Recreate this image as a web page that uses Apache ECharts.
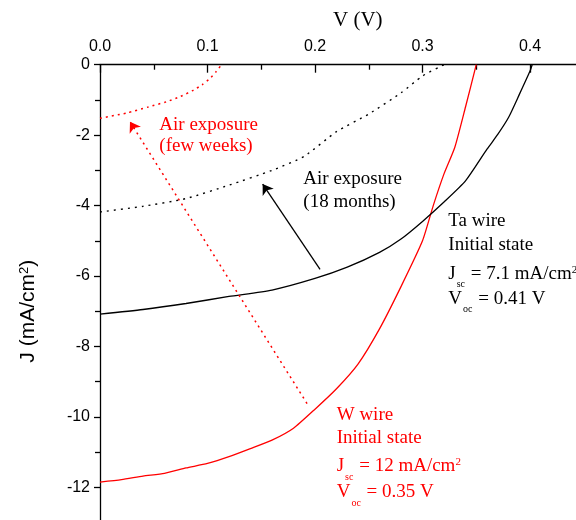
<!DOCTYPE html>
<html><head><meta charset="utf-8">
<script src="https://cdn.jsdelivr.net/npm/echarts@6/dist/echarts.min.js"></script>
<style>html,body{margin:0;padding:0;background:#fff}#c{width:576px;height:520px}</style>
</head><body><div id="c"></div>
<script>
// ---- data ----
const xTickValues = [0.0, 0.1, 0.2, 0.3, 0.4];
const xTickLabels = ['0.0', '0.1', '0.2', '0.3', '0.4'];
const yTickValues = [0, -2, -4, -6, -8, -10, -12];
const yTickLabels = ['0', '-2', '-4', '-6', '-8', '-10', '-12'];

// W wire, initial state (red solid)
const wInitV = [0, 0.02, 0.04, 0.06, 0.08, 0.10, 0.12, 0.14, 0.16, 0.18, 0.20, 0.22, 0.24, 0.26, 0.28, 0.30, 0.31, 0.32, 0.33, 0.34, 0.35];
const wInitJ = [-11.85, -11.78, -11.68, -11.6, -11.45, -11.32, -11.13, -10.9, -10.66, -10.32, -9.78, -9.2, -8.5, -7.5, -6.3, -5.0, -4.0, -3.1, -2.35, -1.2, 0];
// W wire, air exposure few weeks (red dotted)
const wAirV = [0, 0.025, 0.045, 0.062, 0.075, 0.087, 0.095, 0.102, 0.108, 0.113];
const wAirJ = [-1.52, -1.37, -1.2, -1.05, -0.9, -0.72, -0.57, -0.4, -0.2, 0];
// Ta wire, initial state (black solid)
const taInitV = [0, 0.04, 0.08, 0.12, 0.16, 0.20, 0.23, 0.26, 0.28, 0.30, 0.32, 0.34, 0.36, 0.37, 0.38, 0.39, 0.40, 0.402];
const taInitJ = [-7.08, -6.95, -6.78, -6.58, -6.4, -6.07, -5.75, -5.33, -4.95, -4.45, -3.9, -3.3, -2.4, -1.98, -1.5, -0.85, -0.18, 0];
// Ta wire, air exposure 18 months (black dotted)
const taAirV = [0, 0.04, 0.08, 0.12, 0.16, 0.19, 0.22, 0.25, 0.28, 0.30, 0.32];
const taAirJ = [-4.18, -4.02, -3.8, -3.42, -3.0, -2.6, -1.9, -1.4, -0.8, -0.32, 0];

// arrows (start -> end, in V / J units)
const wArrowV = [0.1926, 0.0279];
const wArrowJ = [-9.62, -1.62];
const taArrowV = [0.2047, 0.1513];
const taArrowJ = [-5.81, -3.39];

// ---- chart ----
const serif = '"Liberation Serif", "Times New Roman", serif';
const sans = '"Liberation Sans", Arial, sans-serif';
const pair = (vs, js) => vs.map((v, i) => [v, js[i]]);
const RED = '#ff0000', BLACK = '#000000';

const chart = echarts.init(document.getElementById('c'), null, {renderer: 'canvas'});

function lbl(x, baseline, text, color) {
  return {
    type: 'text', x: x, y: baseline - 17, silent: true, z: 100,
    style: {
      text: text, verticalAlign: 'top', align: 'left', fill: color,
      font: '19px ' + serif,
      rich: {
        m: {fontFamily: serif, fontSize: 19, lineHeight: 22, verticalAlign: 'top', fill: color},
        s: {fontFamily: serif, fontSize: 10, lineHeight: 10, padding: [15, 1, 0, 1], verticalAlign: 'top', fill: color},
        p: {fontFamily: serif, fontSize: 11, lineHeight: 11, verticalAlign: 'top', fill: color}
      }
    }
  };
}

const option = {
  animation: false,
  backgroundColor: '#ffffff',
  grid: {left: 100, top: 64.7, right: -61.5, bottom: -37.8, containLabel: false, outerBoundsMode: 'none'},
  xAxis: {
    type: 'value', position: 'top', min: 0, max: 0.5, interval: 0.1,
    name: 'V (V)', nameLocation: 'middle', nameGap: 34,
    nameTextStyle: {fontFamily: serif, fontSize: 21, color: BLACK, padding: [0, 22, 0, 0]},
    axisLine: {onZero: false, lineStyle: {color: BLACK, width: 1.3}},
    axisTick: {inside: true, length: 8, lineStyle: {color: BLACK, width: 1.3}},
    minorTick: {show: true, splitNumber: 2, length: 5, lineStyle: {color: BLACK, width: 1.3}},
    axisLabel: {
      margin: 10, fontFamily: sans, fontSize: 16, color: BLACK,
      formatter: v => { const i = xTickValues.findIndex(t => Math.abs(t - v) < 1e-9); return i >= 0 ? xTickLabels[i] : ''; }
    },
    splitLine: {show: false}, minorSplitLine: {show: false}
  },
  yAxis: {
    type: 'value', position: 'left', min: -14, max: 0, interval: 2,
    name: '{a|J (mA/cm}{s|2}{a|)}', nameLocation: 'middle', nameGap: 58, nameRotate: 90,
    nameTextStyle: {
      fontFamily: sans, fontSize: 21, color: BLACK,
      rich: {
        a: {fontFamily: sans, fontSize: 21, lineHeight: 24, verticalAlign: 'top', color: BLACK},
        s: {fontFamily: sans, fontSize: 13, lineHeight: 13, verticalAlign: 'top', color: BLACK}
      }
    },
    axisLine: {onZero: false, lineStyle: {color: BLACK, width: 1.3}},
    axisTick: {inside: false, length: 6, lineStyle: {color: BLACK, width: 1.3}},
    minorTick: {show: true, splitNumber: 2, length: 5, lineStyle: {color: BLACK, width: 1.3}},
    axisLabel: {
      margin: 10, fontFamily: sans, fontSize: 16, color: BLACK,
      formatter: v => { const i = yTickValues.findIndex(t => Math.abs(t - v) < 1e-9); return i >= 0 ? yTickLabels[i] : ''; }
    },
    splitLine: {show: false}, minorSplitLine: {show: false}
  },
  series: [
    {type: 'line', name: 'W initial', data: pair(wInitV, wInitJ), symbol: 'none', smooth: 0.2,
     lineStyle: {color: RED, width: 1.3}, z: 3},
    {type: 'line', name: 'W air', data: pair(wAirV, wAirJ), symbol: 'none', smooth: 0.2,
     lineStyle: {color: RED, width: 1.5, type: [2, 4]}, z: 3},
    {type: 'line', name: 'Ta initial', data: pair(taInitV, taInitJ), symbol: 'none', smooth: 0.2,
     lineStyle: {color: BLACK, width: 1.3}, z: 3},
    {type: 'line', name: 'Ta air', data: pair(taAirV, taAirJ), symbol: 'none', smooth: 0.2,
     lineStyle: {color: BLACK, width: 1.4, type: [2, 5]}, z: 3},
    {type: 'lines', coordinateSystem: 'cartesian2d', symbol: ['none', 'arrow'], symbolSize: [0, 10],
     lineStyle: {color: RED, width: 1.5, type: [2, 4], opacity: 1},
     data: [{coords: pair(wArrowV, wArrowJ)}], z: 4},
    {type: 'lines', coordinateSystem: 'cartesian2d', symbol: ['none', 'arrow'], symbolSize: [0, 10],
     lineStyle: {color: BLACK, width: 1.3, opacity: 1},
     data: [{coords: pair(taArrowV, taArrowJ)}], z: 4}
  ],
  graphic: [
    lbl(159.3, 133, '{m|Air exposure}', RED),
    lbl(159.3, 154, '{m|(few weeks)}', RED),
    lbl(303.3, 187, '{m|Air exposure}', BLACK),
    lbl(303.3, 210, '{m|(18 months)}', BLACK),
    lbl(448.3, 228.3, '{m|Ta wire}', BLACK),
    lbl(448.3, 252.7, '{m|Initial state}', BLACK),
    lbl(448.3, 281.7, '{m|J}{s|sc}{m| = 7.1 mA/cm}{p|2}', BLACK),
    lbl(448.3, 306.7, '{m|V}{s|oc}{m| = 0.41 V}', BLACK),
    lbl(336.7, 422.7, '{m|W wire}', RED),
    lbl(336.7, 446, '{m|Initial state}', RED),
    lbl(336.7, 474, '{m|J}{s|sc}{m| = 12 mA/cm}{p|2}', RED),
    lbl(336.7, 500, '{m|V}{s|oc}{m| = 0.35 V}', RED)
  ]
};
chart.setOption(option);
</script>
</body></html>
